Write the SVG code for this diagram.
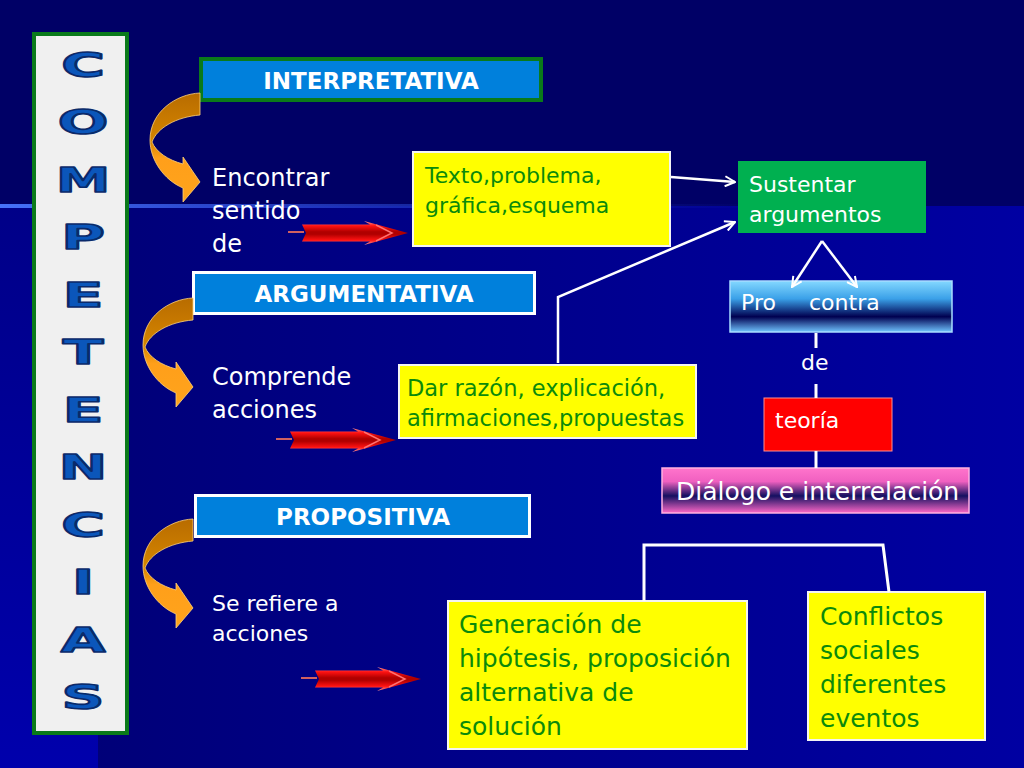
<svg xmlns="http://www.w3.org/2000/svg" width="1024" height="768" viewBox="0 0 1024 768">
<style>
.wt{fill:#ffffff;font-family:"DejaVu Sans","Verdana",sans-serif}
.gt{fill:#0b8a0b;font-family:"DejaVu Sans","Verdana",sans-serif}
.hd{fill:#ffffff;font-family:"DejaVu Sans","Verdana",sans-serif;font-weight:bold;font-size:23px;text-anchor:middle}
.lt{fill:#0b56ba;stroke:#0a2a6a;stroke-width:1.6;stroke-linejoin:round;font-family:"DejaVu Sans",sans-serif;font-weight:bold;font-size:34px;text-anchor:middle}
.yb{fill:#ffff00;stroke:#f4f4f4;stroke-width:2}
.cn{stroke:#ffffff;stroke-width:3;fill:none}
.ca{stroke:#ffffff;stroke-width:2.5;fill:none;marker-end:url(#chev)}
</style>
<defs>
<linearGradient id="bgLow" x1="0" y1="0" x2="1" y2="0">
<stop offset="0" stop-color="#000074"/>
<stop offset="1" stop-color="#0000a2"/>
</linearGradient>
<linearGradient id="bgLeft" x1="0" y1="0" x2="0" y2="1">
<stop offset="0" stop-color="#000088"/>
<stop offset="1" stop-color="#0000ac"/>
</linearGradient>
<linearGradient id="glow" x1="0" y1="0" x2="1" y2="0">
<stop offset="0" stop-color="#4a78ff" stop-opacity="0.95"/>
<stop offset="0.3" stop-color="#3a60f0" stop-opacity="0.7"/>
<stop offset="1" stop-color="#2040d0" stop-opacity="0"/>
</linearGradient>
<linearGradient id="orng" x1="0" y1="0" x2="0" y2="1">
<stop offset="0" stop-color="#b86c00"/>
<stop offset="0.45" stop-color="#d68600"/>
<stop offset="0.6" stop-color="#ff9f1a"/>
<stop offset="1" stop-color="#ffa41c"/>
</linearGradient>
<linearGradient id="redg" x1="0" y1="0" x2="0" y2="1">
<stop offset="0" stop-color="#ff9a9a"/>
<stop offset="0.2" stop-color="#ff1212"/>
<stop offset="0.45" stop-color="#b00000"/>
<stop offset="0.55" stop-color="#b00000"/>
<stop offset="0.8" stop-color="#ff1212"/>
<stop offset="1" stop-color="#ff9a9a"/>
</linearGradient>
<linearGradient id="blueg" x1="0" y1="0" x2="0" y2="1">
<stop offset="0" stop-color="#84d8ff"/>
<stop offset="0.35" stop-color="#3aa0e8"/>
<stop offset="0.7" stop-color="#000050"/>
<stop offset="1" stop-color="#70c4ff"/>
</linearGradient>
<linearGradient id="pinkg" x1="0" y1="0" x2="0" y2="1">
<stop offset="0" stop-color="#ff74cc"/>
<stop offset="0.3" stop-color="#f060c0"/>
<stop offset="0.62" stop-color="#141060"/>
<stop offset="1" stop-color="#ff68c8"/>
</linearGradient>
<marker id="chev" viewBox="0 0 12 12" refX="11" refY="6" markerWidth="12" markerHeight="12" markerUnits="userSpaceOnUse" orient="auto">
<path d="M1,1 L11,6 L1,11" stroke="#ffffff" stroke-width="2" fill="none"/>
</marker>
<g id="curv">
<path d="M200,93 C176,94 150,112 150,140 C150,160 164,180 183,188 L183,202 L200,182 L183,157 L183,164 C168,160 156,152 152,142 C157,128 176,117 200,115 Z" fill="url(#orng)" stroke="#ffd27a" stroke-width="0.8"/>
</g>
<g id="redArrow">
<line x1="-2" y1="-1" x2="14" y2="-1" stroke="#d06060" stroke-width="2"/>
<path d="M12,-8.5 L80,-8.5 L74,-12 L118,0 L74,12 L80,8.5 L12,8.5 L16,0 Z" fill="url(#redg)"/>
<polyline points="86,-8 102,0 86,8" fill="none" stroke="#ff7070" stroke-width="1.5"/>
</g>
</defs>

<!-- background -->
<rect x="0" y="0" width="1024" height="768" fill="#000066"/>
<rect x="0" y="206" width="1024" height="562" fill="url(#bgLow)"/>
<rect x="0" y="206" width="98" height="562" fill="url(#bgLeft)"/>
<rect x="0" y="204" width="760" height="4" fill="url(#glow)"/>

<!-- COMPETENCIAS column -->
<g id="competencias">
<rect x="34" y="34" width="93" height="699" fill="#f0f0f0" stroke="#0a7a1a" stroke-width="4"/>
<text class="lt" transform="translate(83,77) scale(1.75,1)">C</text>
<text class="lt" transform="translate(83,134) scale(1.75,1)">O</text>
<text class="lt" transform="translate(83,192) scale(1.6,1)">M</text>
<text class="lt" transform="translate(83,249) scale(1.75,1)">P</text>
<text class="lt" transform="translate(83,307) scale(1.75,1)">E</text>
<text class="lt" transform="translate(83,364) scale(1.75,1)">T</text>
<text class="lt" transform="translate(83,422) scale(1.75,1)">E</text>
<text class="lt" transform="translate(83,479) scale(1.7,1)">N</text>
<text class="lt" transform="translate(83,537) scale(1.75,1)">C</text>
<text class="lt" transform="translate(83,594) scale(1.75,1)">I</text>
<text class="lt" transform="translate(83,652) scale(1.7,1)">A</text>
<text class="lt" transform="translate(83,709) scale(1.75,1)">S</text>
</g>

<!-- heading boxes -->
<g id="interpretativa">
<rect x="201" y="59" width="340" height="41" fill="#0080dc" stroke="#0a7a1a" stroke-width="4"/>
<text class="hd" x="371" y="89">INTERPRETATIVA</text>
</g>
<g id="argumentativa">
<rect x="193.5" y="272.5" width="341" height="41" fill="#0080dc" stroke="#ffffff" stroke-width="3"/>
<text class="hd" x="364" y="302">ARGUMENTATIVA</text>
</g>
<g id="propositiva">
<rect x="195.5" y="495.5" width="334" height="41" fill="#0080dc" stroke="#ffffff" stroke-width="3"/>
<text class="hd" x="363" y="525">PROPOSITIVA</text>
</g>

<!-- white labels -->
<g id="encontrar">
<text class="wt" font-size="24" x="212" y="186">Encontrar</text>
<text class="wt" font-size="24" x="212" y="219">sentido</text>
<text class="wt" font-size="24" x="212" y="252">de</text>
</g>
<g id="comprende">
<text class="wt" font-size="24" x="212" y="385">Comprende</text>
<text class="wt" font-size="24" x="212" y="418">acciones</text>
</g>
<g id="serefiere">
<text class="wt" font-size="22" x="212" y="611">Se refiere a</text>
<text class="wt" font-size="22" x="212" y="641">acciones</text>
</g>

<!-- yellow boxes -->
<g id="texto">
<rect class="yb" x="413" y="152" width="257" height="94"/>
<text class="gt" font-size="22" x="425" y="183">Texto,problema,</text>
<text class="gt" font-size="22" x="425" y="213">gráfica,esquema</text>
</g>
<g id="darrazon">
<rect class="yb" x="399" y="365" width="297" height="73"/>
<text class="gt" font-size="22.5" x="407" y="396">Dar razón, explicación,</text>
<text class="gt" font-size="22.5" x="407" y="426">afirmaciones,propuestas</text>
</g>
<g id="generacion">
<rect class="yb" x="448" y="601" width="299" height="148"/>
<text class="gt" font-size="25" x="459" y="633">Generación de</text>
<text class="gt" font-size="25" x="459" y="667">hipótesis, proposición</text>
<text class="gt" font-size="25" x="459" y="701">alternativa de</text>
<text class="gt" font-size="25" x="459" y="735">solución</text>
</g>
<g id="conflictos">
<rect class="yb" x="808" y="592" width="177" height="148"/>
<text class="gt" font-size="25" x="820" y="625">Conflictos</text>
<text class="gt" font-size="25" x="820" y="659">sociales</text>
<text class="gt" font-size="25" x="820" y="693">diferentes</text>
<text class="gt" font-size="25" x="820" y="727">eventos</text>
</g>

<!-- right column -->
<g id="sustentar">
<rect x="738" y="161" width="188" height="72" fill="#00b050"/>
<text class="wt" font-size="22" x="749" y="192">Sustentar</text>
<text class="wt" font-size="22" x="749" y="222">argumentos</text>
</g>
<g id="procontra">
<rect x="730" y="281" width="222" height="51" fill="url(#blueg)" stroke="#a8dcff" stroke-width="1.5"/>
<text class="wt" font-size="22" x="741" y="310">Pro</text>
<text class="wt" font-size="22" x="809" y="310">contra</text>
</g>
<g id="de">
<text class="wt" font-size="22" x="801" y="370">de</text>
</g>
<g id="teoria">
<rect x="764" y="398" width="128" height="53" fill="#ff0000" stroke="#ff9090" stroke-width="1"/>
<text class="wt" font-size="22" x="775" y="428">teoría</text>
</g>
<g id="dialogo">
<rect x="662" y="468" width="307" height="45" fill="url(#pinkg)" stroke="#ffb0e0" stroke-width="1.5"/>
<text class="wt" font-size="25" x="676" y="500">Diálogo e interrelación</text>
</g>

<!-- connectors -->
<g id="connectors">
<use href="#curv"/>
<use href="#curv" transform="translate(-7,205)"/>
<use href="#curv" transform="translate(-7,426)"/>
<use href="#redArrow" transform="translate(290,233)"/>
<use href="#redArrow" transform="translate(278,440)"/>
<use href="#redArrow" transform="translate(303,679)"/>
<line class="ca" x1="671" y1="177" x2="735" y2="182"/>
<polyline class="ca" points="558,363 558,297 735,222"/>
<line class="ca" x1="822" y1="241" x2="792" y2="287"/>
<line class="ca" x1="822" y1="241" x2="857" y2="287"/>
<line class="cn" x1="816" y1="333" x2="816" y2="348"/>
<line class="cn" x1="816" y1="384" x2="816" y2="398"/>
<line class="cn" x1="816" y1="451" x2="816" y2="468"/>
<polyline class="cn" points="644,601 644,545 883,545 889,592"/>
</g>
</svg>
